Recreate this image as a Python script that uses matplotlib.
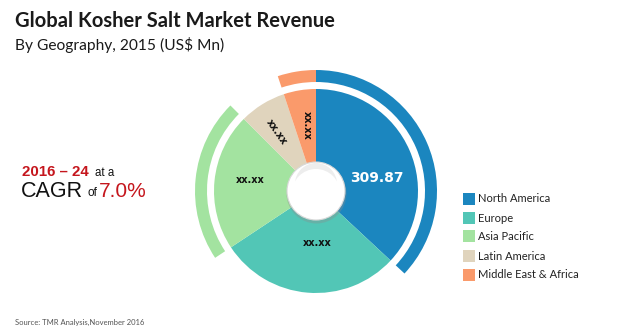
import matplotlib
matplotlib.use("Agg")
import matplotlib.pyplot as plt
from matplotlib.patches import Circle

# data
regions = ["North America", "Europe", "Asia Pacific", "Latin America", "Middle East & Africa"]
revenue = [309.87, 241.1, 182.9, 62.0, 42.9]   # only NA is printed, the rest estimated from slice angles
slice_labels = ["309.87", "xx.xx", "xx.xx", "xx.xx", "xx.xx"]
colors = ["#1B86BF", "#52C6B6", "#A3E3A0", "#E0D4BD", "#FA9A6B"]
ring_shown = [True, False, True, False, True]

W, H = 620, 332
fig = plt.figure(figsize=(W / 100, H / 100), dpi=100)
fig.patch.set_facecolor("white")

# pie axes, 1 data unit == 1 pixel, centred on the donut centre
cx, cy, half = 316, 191, 128
ax = fig.add_axes([(cx - half) / W, (H - cy - half) / H, 2 * half / W, 2 * half / H])

wedges, _ = ax.pie(revenue, colors=colors, startangle=90, counterclock=False,
                   radius=102, wedgeprops=dict(linewidth=0))

# outer highlight arcs
ring_colors = [c if s else "none" for c, s in zip(colors, ring_shown)]
ax.pie(revenue, colors=ring_colors, startangle=90, counterclock=False,
       radius=121, wedgeprops=dict(width=12, linewidth=0))

ax.set_xlim(-half, half)
ax.set_ylim(-half, half)
ax.set_aspect("equal")
ax.axis("off")

# centre "button"
ax.add_patch(Circle((0.5, -2.5), 30, facecolor="#8c8c8c", alpha=0.35, linewidth=0, zorder=5))
ax.add_patch(Circle((0, 0), 29, facecolor="white", edgecolor="#d8d8d8", linewidth=0.8, zorder=6))
ax.add_patch(Circle((0, 7), 21, facecolor="#ededed", linewidth=0, zorder=6))
ax.add_patch(Circle((0, -2), 24, facecolor="white", linewidth=0, zorder=6))

# slice labels
label_pos = [(61, 13), (1, -52), (-66, 11), (-39, 59), (-9, 66)]
label_rot = [0, 0, 0, -55, -90]
for i, (x, y) in enumerate(label_pos):
    first = i == 0
    ax.text(x, y, slice_labels[i], ha="center", va="center", rotation=label_rot[i],
            fontsize=10 if first else 7, fontweight="bold",
            color="white" if first else "#111111", family="DejaVu Sans", zorder=7)

# titles
fig.text(15 / W, 1 - 21 / H, "Global Kosher Salt Market Revenue", fontsize=14.5,
         fontweight="bold", family="Lato", color="#1a1a1a", va="center")
fig.text(15 / W, 1 - 45 / H, "By Geography, 2015 (US$ Mn)", fontsize=11.2,
         family="Lato", color="#1a1a1a", va="center")

# CAGR block
red = "#C5161D"
fig.text(22 / W, 1 - 172 / H, "2016 \u2013 24", fontsize=10.8, fontweight="bold",
         family="Liberation Sans", color=red, va="center")
fig.text(95 / W, 1 - 173 / H, "at a", fontsize=8.3, family="Liberation Sans",
         color="#111111", va="center")
fig.text(21 / W, 1 - 191 / H, "CAGR", fontsize=15.5, family="Liberation Sans",
         color="#111111", va="center")
fig.text(87 / W, 1 - 193 / H, "of", fontsize=8.5, family="Liberation Sans",
         color="#111111", va="center")
fig.text(99 / W, 1 - 191 / H, "7.0%", fontsize=15, family="Liberation Sans",
         color=red, va="center")

# legend
leg_y = [199, 218, 236, 256, 275]
for name, col, y in zip(regions, colors, leg_y):
    fig.patches.append(plt.Rectangle((463 / W, 1 - (y + 6) / H), 12 / W, 12 / H,
                                     facecolor=col, linewidth=0, transform=fig.transFigure,
                                     figure=fig, zorder=10))
    fig.text(478 / W, 1 - y / H, name, fontsize=8, family="Lato", color="#222222",
             va="center")

fig.text(15 / W, 1 - 322 / H, "Source: TMR Analysis,November 2016", fontsize=5.5,
         family="Lato", color="#555555", va="center")

fig.savefig("out.png", dpi=100)
